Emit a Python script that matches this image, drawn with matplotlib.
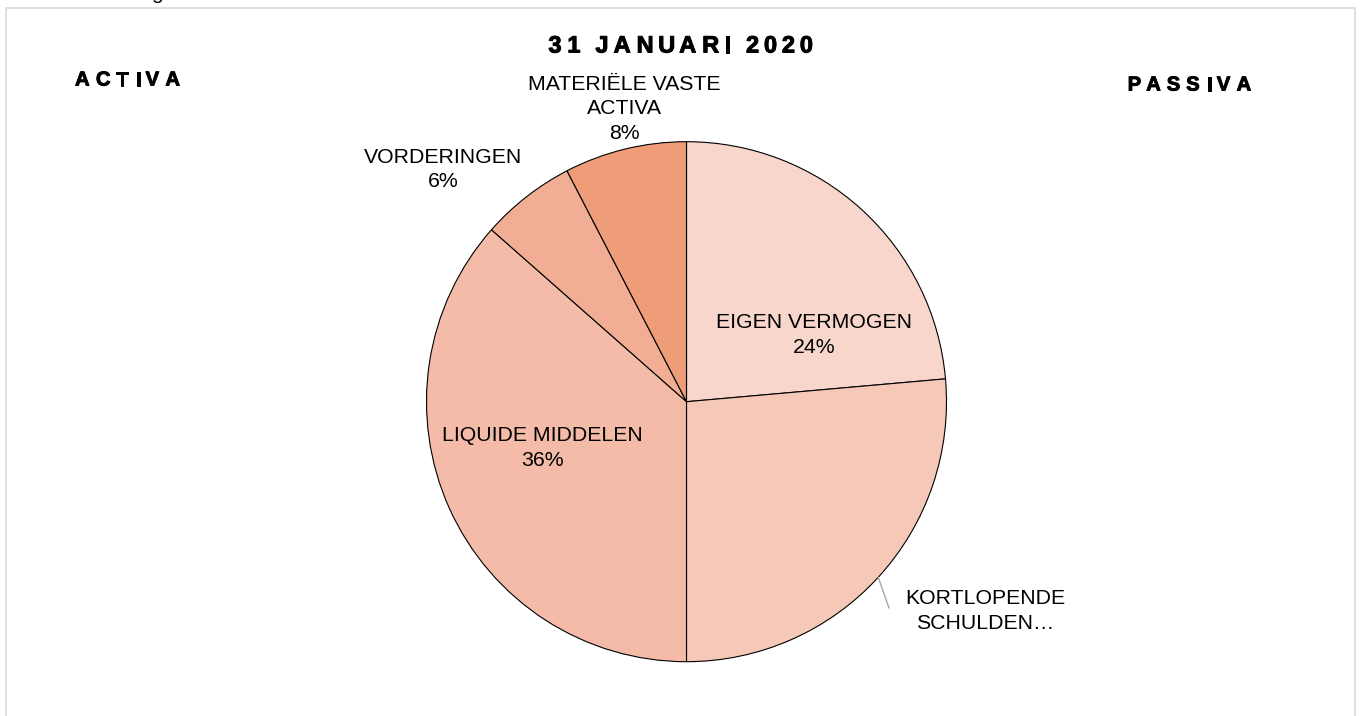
import matplotlib
matplotlib.use('Agg')
import matplotlib.pyplot as plt
import matplotlib.patheffects as pe
from matplotlib import font_manager as fm
from matplotlib.ft2font import FT2Font
from matplotlib.patches import Rectangle
import numpy as np

# Balance sheet shares (%), clockwise from 12 o'clock
categories = ['EIGEN VERMOGEN', 'KORTLOPENDE SCHULDEN', 'LIQUIDE MIDDELEN',
              'VORDERINGEN', 'MATERIËLE VASTE ACTIVA']
shares = [23.6, 26.4, 36.5, 5.9, 7.6]
label_texts = ['EIGEN VERMOGEN\n24%', 'KORTLOPENDE\nSCHULDEN…', 'LIQUIDE MIDDELEN\n36%',
               'VORDERINGEN\n6%', 'MATERIËLE VASTE\nACTIVA\n8%']
colors = ['#F8D6CB', '#F6C8B8', '#F4BBA8', '#F1AE94', '#EF9D79']

title = '31 JANUARI 2020'
left_head = 'ACTIVA'
right_head = 'PASSIVA'

W, H = 1360, 716
FONT = 'Liberation Sans'

fig = plt.figure(figsize=(W / 100, H / 100), dpi=100)
ax = fig.add_axes([0, 0, 1, 1])


def py(y):
    # pixel row (from top) -> data y
    return H - y


# pie, centre and radius in pixels
cx, cy, r = 686.5, 401.7, 260
wedges, _ = ax.pie(shares, colors=colors, startangle=90, counterclock=False,
                   center=(cx, py(cy)), radius=r,
                   wedgeprops=dict(edgecolor='black', linewidth=0.8))

ax.set_xlim(0, W)
ax.set_ylim(0, H)
ax.set_aspect('auto')
ax.axis('off')

# outer frame (bottom edge is cut off in the source)
ax.add_patch(Rectangle((6, py(H + 10)), 1349, H + 2, fill=False,
                       edgecolor='#D9D9D9', linewidth=1.2, zorder=0))

# clipped caption above the frame
ax.text(157, py(-1), 'g', fontsize=15, family=FONT, ha='center', va='baseline')

# slice labels: (x, y) centre of the text block in pixels
label_pos = [(814, 335), (985, 611), (542, 448), (443, 169.5), (624, 109)]
for txt, (lx, ly) in zip(label_texts, label_pos):
    ax.text(lx, py(ly), txt, fontsize=15.3, family=FONT, ha='center', va='center',
            multialignment='center', linespacing=1.36, color='black')

# leader line for the outside label of the second slice
w = wedges[1]
mid = np.deg2rad((w.theta1 + w.theta2) / 2)
edge = (cx + r * np.cos(mid), py(cy) + r * np.sin(mid))
ax.annotate('', xy=edge, xytext=(889, py(608)),
            arrowprops=dict(arrowstyle='-', color='#A6A6A6', lw=1,
                            shrinkA=0, shrinkB=0))

heavy = [pe.withStroke(linewidth=0.7, foreground='black')]


def spaced(x, y, s, size, gap):
    # bold text with extra letter spacing, centred on x, baseline at y
    path = fm.findfont(fm.FontProperties(family=FONT, weight='bold'))
    f = FT2Font(path)
    f.set_size(size, 100)
    glyphs = [f.load_char(ord(c)) for c in s]
    adv = [g.linearHoriAdvance / 65536 for g in glyphs]
    lsb = [g.horiBearingX / 64 for g in glyphs]
    total = sum(adv) + gap * (len(s) - 1)
    pen = x - total / 2
    for c, a, b in zip(s, adv, lsb):
        if c != ' ':
            ax.text(pen + b, py(y), c, fontsize=size, family=FONT, fontweight='bold',
                    ha='left', va='baseline', color='black', path_effects=heavy)
        pen += a + gap


spaced(680, 52.5, title, 17, 4.8)
spaced(127, 85.5, left_head, 14.5, 6.0)
spaced(1188.5, 90.5, right_head, 14.5, 6.0)

fig.savefig('out.png', dpi=100)
